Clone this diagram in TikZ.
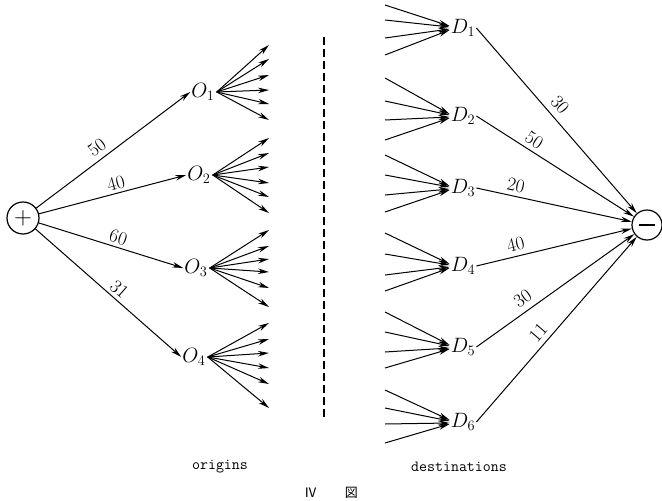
\documentclass[tikz,border=0pt]{standalone}
\usepackage{fontspec}
\newfontfamily\cjk{Noto Sans CJK JP}
\usetikzlibrary{arrows.meta}
\begin{document}
\begin{tikzpicture}[x=1pt,y=-1pt,
  arr/.style={line width=1pt,-{Stealth[length=11pt,width=5.5pt]}},
  lbl/.style={font=\fontsize{19}{21}\selectfont, inner sep=2pt},
  vert/.style={font=\fontsize{21}{24}\selectfont, inner sep=1pt},
  term/.style={circle, draw, line width=1.2pt, inner sep=0pt, fill=white},
  captext/.style={font=\ttfamily\fontsize{15.5}{17}\selectfont, inner sep=0pt},
]
\useasboundingbox (0,0) rectangle (662,501);

% source and sink
\node[term, minimum size=32pt] (src) at (23,218) {\fontsize{32}{32}\selectfont$+$};
\node[term, minimum size=30pt] (snk) at (647,225) {};
\draw[line width=2.2pt] ([xshift=-8pt]snk.center) -- ([xshift=8pt]snk.center);

% origins with their outgoing fans (heights of the six arrow tips)
\foreach \i/\x/\y/\ya/\yb/\yc/\yd/\ye/\yf in {
    1/203/92/45/59/75/90/104/120,
    2/199/175/138/153/167/183/197/213,
    3/196/268/230/246/259/272/288/307,
    4/194/357/323/339/353/368/384/408} {
  \node[vert] (O\i) at (\x,\y) {$O_{\i}$};
  \coordinate (O\i-f) at ([xshift=1pt]O\i.east);
  \foreach \k/\t in {1/\ya,2/\yb,3/\yc,4/\yd,5/\ye,6/\yf} {
    \coordinate (O\i-e\k) at (269,\t);
    \draw[arr] (O\i-f) -- (O\i-e\k);
  }
}

% destinations with their incoming fans (heights of the four tails)
\foreach \i/\y/\ya/\yb/\yc/\yd in {
    1/28/5/20/38/55,
    2/116/78/101/120/140,
    3/188/155/175/195/212,
    4/266/233/254/275/291,
    5/347/312/332/352/368,
    6/422/390/408/424/443} {
  \node[vert] (D\i) at (463,\y) {$D_{\i}$};
  \foreach \k/\s/\t in {1/\ya/-2,2/\yb/-1,3/\yc/1,4/\yd/2} {
    \coordinate (D\i-s\k) at (385,\s);
    \draw[arr] (D\i-s\k) -- ([yshift=-\t pt]D\i.west);
  }
}

% source to origins
\draw[arr] (src) -- (O1.west) node[lbl, pos=0.44, above=3pt, sloped] {50};
\draw[arr] (src) -- (O2.west) node[lbl, pos=0.54, above=1pt, sloped] {40};
\draw[arr] (src) -- (O3.west) node[lbl, pos=0.53, above=1pt, sloped] {60};
\draw[arr] (src) -- (O4.west) node[lbl, pos=0.53, above=1pt, sloped] {31};

% destinations to sink
\draw[arr] (D1.east) -- (snk) node[lbl, pos=0.46, above=4pt, sloped] {30};
\draw[arr] (D2.east) -- (snk) node[lbl, pos=0.33, above=2pt, sloped] {50};
\draw[arr] (D3.east) -- (snk) node[lbl, pos=0.24, above=2pt, sloped] {20};
\draw[arr] (D4.east) -- (snk) node[lbl, pos=0.27, above=3pt, sloped] {40};
\draw[arr] (D5.east) -- (snk) node[lbl, pos=0.34, above=4pt, sloped] {30};
\draw[arr] (D6.east) -- (snk) node[lbl, pos=0.44, above=3pt, sloped] {11};

% separator between origins and destinations
\draw[line width=1.1pt, dash pattern=on 8pt off 4pt] (324,37) -- (324,420);

% captions
\node[captext] (orig) at (220,467) {origins};
\node[captext] (dest) at (459,467) {destinations};
\node[font=\cjk\fontsize{13}{15}\selectfont, inner sep=0pt] (fig) at (331,493) {Ⅳ\hspace{28pt}図};
\end{tikzpicture}
\end{document}
